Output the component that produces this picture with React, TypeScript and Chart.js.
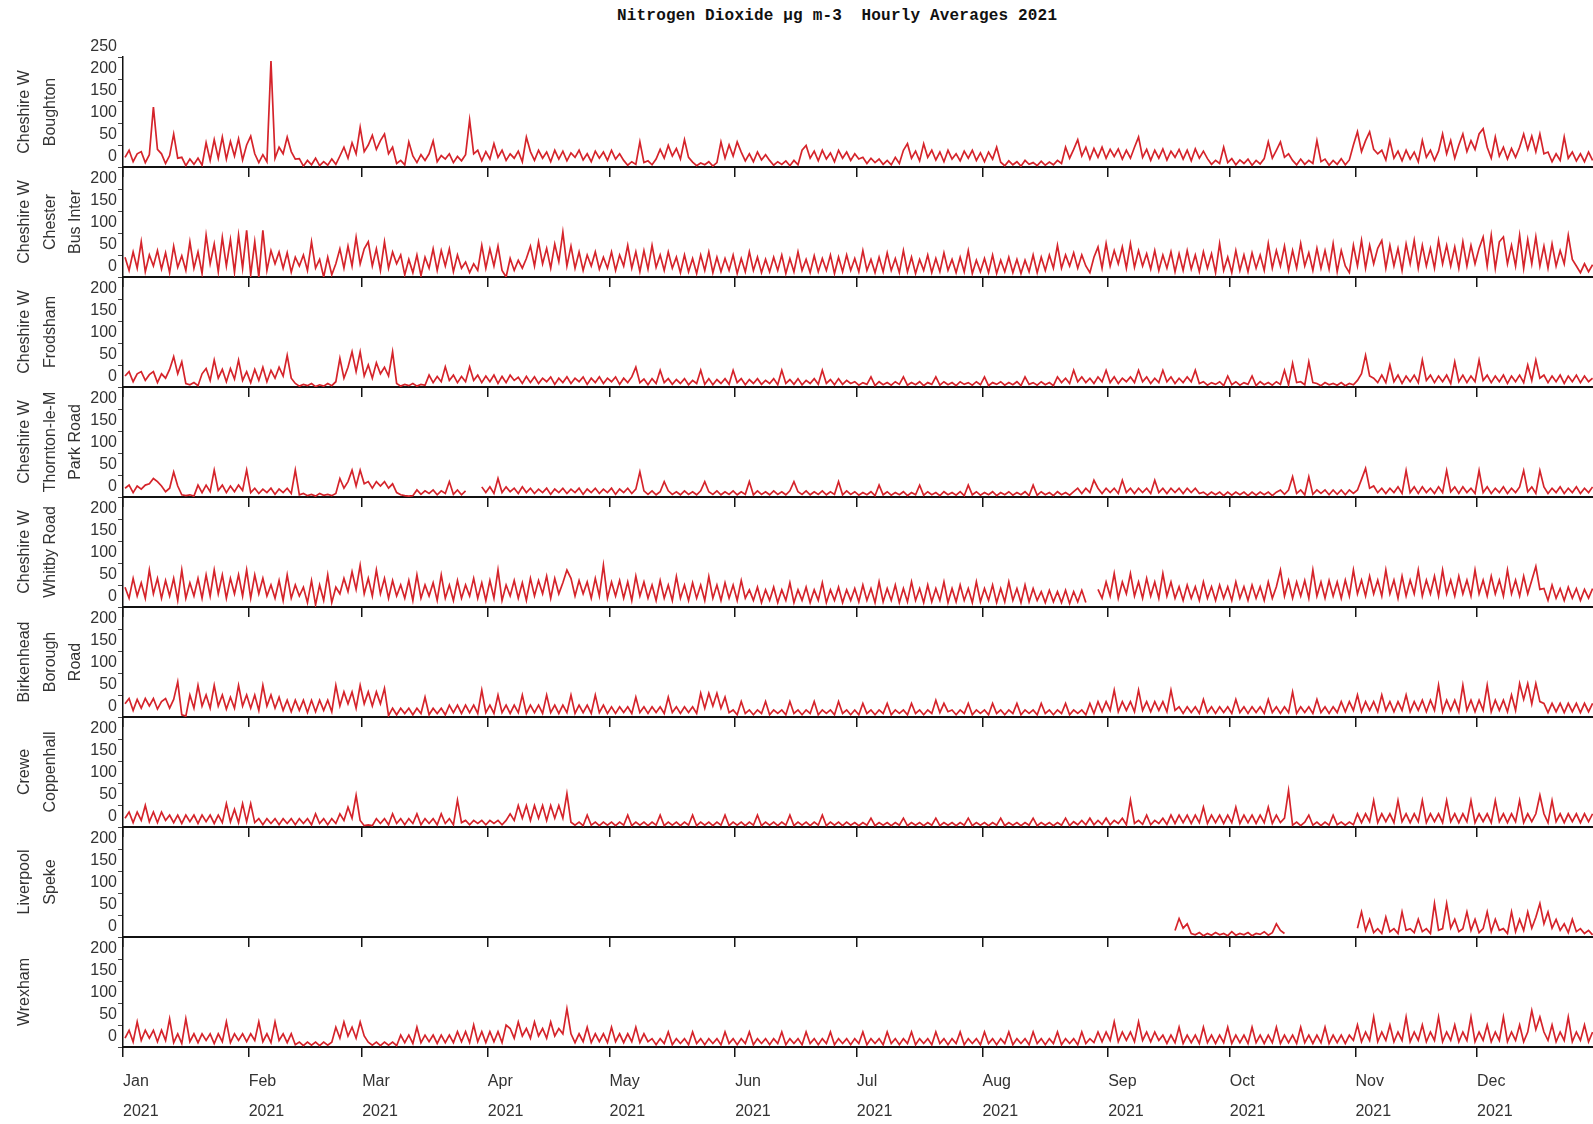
import React, { useEffect, useRef } from 'react';
import { Chart, registerables } from 'chart.js';

Chart.register(...registerables);

const TITLE = 'Nitrogen Dioxide µg m-3  Hourly Averages 2021';
const MONTHS = ['Jan', 'Feb', 'Mar', 'Apr', 'May', 'Jun', 'Jul', 'Aug', 'Sep', 'Oct', 'Nov', 'Dec'];
const MONTH_START_DAYS = [0, 31, 59, 90, 120, 151, 181, 212, 243, 273, 304, 334];
const YEAR_LABEL = '2021';
const Y_TICKS_TOP_PANEL = [0, 50, 100, 150, 200, 250];
const Y_TICKS = [0, 50, 100, 150, 200];
const Y_MAX = 250;
const X_MAX_DAY = 362.6;

// one sampled hourly value per day (day 0 = 1 Jan 2021), µg m-3
const boughton = [
  22, 38, 12, 30, 35, 10, 28, 136, 40, 30,
  8, 26, 75, 20, 22, 3, 18, 6, 20, 4,
  55, 15, 62, 20, 68, 18, 58, 25, 64, 16,
  50, 70, 30, 10, 28, 12, 241, 20, 45, 30,
  68, 35, 18, 19, 2, 15, 5, 20, 3, 12,
  4, 18, 6, 25, 45, 20, 55, 30, 90, 35,
  50, 72, 40, 60, 75, 30, 45, 8, 15, 5,
  57, 25, 10, 28, 15, 30, 59, 12, 26, 18,
  30, 10, 24, 14, 28, 107, 30, 38, 14, 35,
  18, 53, 22, 38, 15, 30, 20, 36, 12, 68,
  35, 15, 38, 20, 34, 12, 38, 18, 36, 14,
  32, 22, 38, 16, 30, 12, 36, 20, 34, 15,
  38, 18, 30, 15, 4, 12, 6, 57, 10, 14,
  5, 18, 40, 20, 49, 25, 42, 18, 62, 22,
  11, 3, 9, 5, 12, 2, 10, 57, 20, 50,
  25, 57, 34, 14, 30, 12, 34, 16, 28, 15,
  4, 12, 6, 14, 3, 15, 5, 38, 49, 20,
  36, 14, 38, 18, 32, 12, 38, 20, 34, 15,
  30, 18, 22, 8, 20, 10, 18, 6, 15, 5,
  22, 8, 38, 53, 20, 36, 14, 53, 22, 38,
  16, 34, 12, 38, 18, 30, 14, 36, 20, 38,
  15, 32, 12, 34, 18, 45, 11, 3, 14, 5,
  12, 2, 15, 6, 10, 3, 13, 4, 11, 5,
  15, 8, 45, 20, 40, 62, 25, 45, 18, 42,
  22, 45, 20, 40, 24, 41, 18, 38, 20, 45,
  68, 22, 40, 15, 38, 20, 41, 16, 36, 22,
  40, 18, 38, 14, 41, 20, 36, 19, 6, 15,
  8, 45, 10, 19, 5, 16, 8, 18, 4, 15,
  7, 19, 57, 20, 38, 57, 22, 30, 15, 5,
  18, 6, 15, 8, 60, 12, 18, 4, 15, 6,
  19, 5, 16, 50, 80, 35, 60, 80, 40, 30,
  38, 16, 60, 20, 36, 14, 38, 18, 34, 12,
  60, 22, 38, 15, 36, 75, 30, 60, 20, 50,
  75, 35, 60, 40, 75, 87, 45, 20, 68, 25,
  45, 18, 42, 22, 45, 75, 40, 70, 35, 75,
  30, 34, 12, 30, 15, 68, 20, 34, 14, 30,
  12, 34, 15,
];

const chesterBusInter = [
  45, 15, 57, 20, 80, 12, 50, 25, 60, 18,
  55, 10, 70, 22, 48, 15, 80, 20, 57, 8,
  95, 30, 75, 12, 90, 25, 85, 11, 95, 20,
  106, 5, 80, 0, 106, 15, 60, 30, 57, 20,
  55, 11, 45, 25, 50, 15, 80, 20, 40, 0,
  45, 5, 30, 64, 20, 70, 25, 90, 30, 64,
  80, 25, 64, 15, 80, 20, 57, 30, 50, 5,
  40, 10, 50, 3, 45, 20, 64, 15, 60, 25,
  64, 12, 50, 20, 34, 10, 30, 15, 72, 20,
  64, 25, 70, 15, 0, 42, 15, 38, 20, 42,
  70, 25, 80, 30, 65, 20, 75, 35, 102, 25,
  70, 20, 57, 15, 50, 25, 57, 18, 45, 20,
  57, 15, 50, 25, 72, 20, 57, 12, 60, 18,
  72, 22, 50, 15, 57, 20, 45, 10, 50, 12,
  42, 8, 50, 15, 57, 10, 45, 12, 42, 15,
  50, 8, 42, 12, 57, 15, 45, 10, 40, 12,
  45, 15, 50, 8, 42, 12, 57, 15, 40, 10,
  48, 12, 42, 15, 50, 8, 45, 12, 50, 15,
  42, 12, 60, 15, 40, 10, 45, 12, 55, 15,
  42, 10, 60, 12, 45, 8, 40, 15, 50, 10,
  42, 12, 55, 15, 40, 10, 45, 12, 60, 8,
  38, 12, 42, 10, 50, 8, 38, 12, 45, 10,
  40, 8, 38, 12, 50, 10, 45, 15, 50, 20,
  72, 20, 50, 25, 55, 20, 50, 25, 10, 45,
  68, 20, 76, 25, 60, 30, 68, 20, 76, 22,
  60, 25, 53, 18, 60, 15, 50, 20, 57, 12,
  53, 15, 60, 18, 50, 12, 57, 20, 53, 10,
  76, 15, 45, 10, 60, 15, 50, 12, 55, 20,
  50, 15, 76, 20, 60, 25, 70, 15, 60, 20,
  76, 25, 55, 15, 65, 20, 60, 18, 76, 12,
  60, 25, 10, 72, 25, 83, 20, 72, 30, 65,
  83, 20, 72, 25, 65, 15, 75, 30, 83, 20,
  72, 25, 65, 20, 83, 30, 72, 25, 68, 20,
  80, 25, 72, 30, 65, 91, 25, 95, 20, 80,
  91, 30, 72, 25, 95, 20, 85, 30, 91, 25,
  70, 20, 75, 25, 60, 30, 95, 40, 25, 10,
  30, 12, 28,
];

const frodsham = [
  25, 35, 12, 30, 35, 15, 28, 35, 10, 30,
  20, 40, 69, 30, 57, 8, 5, 10, 3, 30,
  42, 15, 61, 20, 40, 12, 42, 18, 61, 15,
  35, 10, 40, 15, 45, 12, 38, 20, 45, 25,
  72, 20, 8, 2, 6, 3, 8, 1, 5, 2,
  8, 3, 12, 65, 20, 45, 80, 35, 80, 25,
  50, 20, 55, 30, 45, 25, 80, 8, 2, 6,
  3, 8, 2, 6, 4, 27, 10, 24, 12, 46,
  15, 27, 10, 24, 12, 46, 15, 27, 10, 25,
  12, 27, 8, 24, 10, 27, 15, 22, 8, 24,
  10, 23, 8, 20, 12, 23, 6, 20, 10, 23,
  8, 20, 12, 23, 6, 20, 10, 23, 8, 20,
  12, 23, 6, 20, 10, 23, 45, 10, 18, 5,
  19, 8, 38, 10, 19, 6, 17, 8, 19, 5,
  15, 8, 38, 6, 19, 5, 17, 8, 19, 6,
  38, 10, 19, 5, 17, 8, 19, 6, 15, 8,
  19, 5, 38, 8, 17, 6, 19, 5, 15, 8,
  19, 6, 38, 8, 17, 5, 19, 6, 15, 8,
  12, 4, 10, 6, 23, 3, 12, 5, 10, 4,
  12, 6, 23, 4, 10, 5, 12, 3, 10, 6,
  23, 4, 12, 5, 10, 3, 12, 6, 10, 4,
  12, 5, 23, 3, 10, 6, 12, 4, 10, 5,
  12, 3, 23, 6, 10, 4, 12, 5, 10, 3,
  23, 10, 20, 8, 38, 12, 23, 10, 20, 8,
  23, 12, 38, 10, 23, 8, 20, 12, 23, 10,
  38, 12, 23, 8, 20, 10, 38, 12, 23, 8,
  20, 10, 23, 12, 38, 8, 12, 4, 10, 6,
  12, 3, 25, 5, 12, 4, 10, 6, 25, 3,
  12, 5, 10, 4, 12, 6, 38, 5, 54, 10,
  12, 5, 57, 10, 8, 3, 10, 5, 8, 4,
  10, 3, 8, 5, 15, 30, 72, 25, 20, 10,
  27, 10, 50, 12, 27, 8, 25, 12, 27, 10,
  61, 15, 27, 10, 25, 12, 27, 8, 57, 12,
  27, 10, 25, 12, 61, 15, 27, 10, 25, 12,
  27, 8, 25, 12, 27, 10, 50, 15, 61, 20,
  27, 10, 25, 12, 27, 8, 25, 12, 27, 10,
  25, 12, 20,
];

const thorntonParkRoad = [
  20, 27, 10, 25, 18, 27, 30, 42, 35, 25,
  12, 20, 57, 25, 5, 3, 5, 2, 27, 10,
  27, 12, 61, 15, 27, 10, 25, 12, 27, 15,
  61, 10, 20, 8, 18, 10, 20, 6, 18, 10,
  20, 8, 61, 5, 8, 3, 6, 2, 8, 4,
  6, 3, 8, 42, 20, 35, 61, 25, 61, 30,
  35, 20, 35, 25, 35, 20, 30, 10, 5, 3,
  2, 3, 16, 6, 14, 8, 16, 5, 14, 8,
  35, 6, 16, 5, 14, null, null, null, 23, 10,
  23, 8, 42, 10, 23, 12, 20, 8, 23, 10,
  20, 8, 18, 10, 20, 6, 18, 10, 20, 8,
  18, 10, 20, 6, 18, 10, 20, 8, 18, 10,
  20, 6, 18, 10, 20, 8, 18, 57, 14, 6,
  14, 5, 12, 35, 14, 6, 12, 5, 14, 6,
  12, 5, 14, 35, 12, 6, 14, 5, 12, 6,
  14, 5, 12, 6, 35, 5, 14, 6, 12, 5,
  14, 6, 12, 5, 14, 35, 12, 6, 14, 5,
  12, 6, 14, 5, 12, 6, 35, 5, 14, 6,
  12, 4, 10, 5, 12, 3, 27, 5, 12, 4,
  10, 5, 12, 3, 10, 5, 27, 4, 12, 5,
  10, 3, 12, 5, 10, 4, 12, 3, 27, 5,
  12, 4, 10, 5, 12, 3, 10, 5, 12, 4,
  10, 5, 12, 3, 27, 4, 12, 5, 10, 3,
  12, 5, 10, 4, 12, 20, 8, 20, 10, 38,
  20, 8, 20, 10, 20, 8, 38, 10, 20, 8,
  20, 10, 20, 8, 38, 10, 20, 8, 20, 10,
  20, 8, 20, 10, 20, 8, 11, 4, 11, 5,
  11, 3, 11, 4, 11, 5, 11, 3, 11, 4,
  11, 5, 11, 3, 11, 16, 6, 16, 46, 8,
  16, 5, 46, 6, 16, 8, 16, 5, 16, 6,
  16, 5, 16, 8, 16, 40, 65, 20, 25, 10,
  20, 8, 20, 10, 23, 8, 60, 10, 23, 8,
  23, 10, 20, 8, 23, 10, 60, 12, 23, 8,
  23, 10, 20, 8, 60, 10, 23, 8, 20, 10,
  23, 8, 20, 10, 23, 60, 12, 23, 8, 60,
  23, 8, 20, 10, 23, 8, 20, 10, 23, 8,
  20, 10, 23,
];

const whitbyRoad = [
  45, 20, 65, 25, 55, 20, 84, 30, 65, 20,
  60, 25, 65, 15, 84, 20, 55, 25, 65, 20,
  73, 25, 84, 30, 73, 20, 65, 30, 73, 25,
  84, 20, 73, 30, 65, 25, 50, 20, 60, 15,
  73, 20, 50, 25, 45, 10, 60, 5, 50, 15,
  73, 10, 45, 30, 65, 35, 80, 40, 95, 30,
  65, 25, 84, 30, 65, 20, 60, 25, 50, 20,
  60, 15, 73, 20, 50, 25, 55, 15, 73, 20,
  50, 15, 60, 20, 50, 25, 65, 20, 55, 15,
  60, 20, 84, 15, 50, 25, 60, 20, 55, 15,
  65, 25, 60, 30, 70, 20, 65, 30, 55, 84,
  65, 25, 60, 30, 57, 20, 65, 25, 95, 20,
  57, 25, 60, 20, 57, 15, 70, 25, 57, 20,
  50, 15, 60, 20, 50, 15, 69, 20, 50, 15,
  55, 20, 50, 15, 69, 20, 50, 15, 55, 20,
  50, 15, 60, 20, 39, 15, 45, 10, 39, 15,
  45, 10, 39, 15, 55, 10, 39, 15, 45, 10,
  39, 15, 55, 10, 39, 15, 45, 10, 39, 15,
  42, 12, 50, 15, 42, 10, 57, 12, 42, 15,
  50, 10, 42, 12, 57, 15, 42, 10, 50, 12,
  42, 15, 57, 10, 42, 12, 50, 15, 42, 10,
  57, 12, 42, 15, 50, 10, 42, 12, 57, 15,
  42, 10, 50, 12, 42, 15, 35, 10, 38, 12,
  35, 10, 38, 8, 35, 12, 38, 10, null, null,
  40, 20, 57, 25, 76, 20, 57, 30, 76, 25,
  57, 20, 65, 25, 57, 20, 76, 25, 57, 20,
  46, 15, 50, 20, 46, 15, 57, 20, 46, 15,
  50, 20, 46, 15, 57, 20, 46, 15, 50, 20,
  46, 15, 57, 20, 46, 84, 25, 60, 20, 57,
  25, 60, 20, 84, 25, 57, 20, 60, 25, 57,
  20, 61, 25, 84, 30, 61, 25, 70, 30, 61,
  25, 84, 30, 61, 20, 70, 25, 61, 30, 84,
  25, 61, 30, 70, 25, 84, 30, 61, 25, 70,
  30, 61, 25, 84, 30, 61, 25, 70, 30, 61,
  25, 84, 30, 61, 25, 70, 30, 61, 92, 40,
  42, 15, 50, 20, 42, 15, 45, 20, 42, 15,
  40, 20, 42,
];

const birkenheadBoroughRoad = [
  30, 42, 15, 40, 20, 42, 25, 42, 18, 35,
  42, 20, 40, 80, 5, 2, 50, 20, 72, 25,
  50, 20, 72, 25, 50, 18, 45, 20, 72, 25,
  50, 20, 50, 15, 72, 25, 50, 20, 45, 15,
  38, 12, 38, 15, 38, 10, 38, 12, 38, 15,
  38, 12, 72, 25, 57, 30, 57, 20, 72, 30,
  57, 25, 57, 30, 65, 3, 20, 5, 20, 8,
  20, 5, 20, 8, 45, 5, 20, 8, 20, 5,
  27, 10, 27, 8, 27, 10, 27, 8, 61, 10,
  27, 8, 50, 10, 27, 8, 27, 10, 50, 8,
  27, 10, 27, 8, 50, 10, 27, 8, 27, 10,
  50, 8, 27, 10, 27, 8, 50, 10, 27, 8,
  23, 8, 23, 10, 23, 8, 45, 10, 23, 8,
  23, 10, 23, 8, 45, 10, 23, 8, 23, 10,
  23, 8, 54, 20, 54, 25, 54, 20, 45, 10,
  16, 5, 35, 8, 16, 5, 16, 8, 35, 5,
  16, 8, 16, 5, 35, 8, 16, 5, 16, 8,
  35, 5, 16, 8, 16, 5, 35, 8, 16, 5,
  16, 5, 31, 8, 16, 5, 16, 8, 31, 5,
  16, 8, 16, 5, 31, 8, 16, 5, 16, 8,
  38, 10, 31, 12, 16, 5, 16, 8, 31, 5,
  16, 8, 16, 5, 31, 8, 16, 5, 16, 8,
  31, 5, 16, 8, 16, 5, 31, 8, 16, 5,
  16, 8, 31, 5, 16, 8, 16, 5, 31, 8,
  35, 12, 35, 15, 61, 12, 35, 15, 35, 12,
  61, 15, 35, 12, 35, 15, 35, 12, 61, 15,
  23, 8, 23, 10, 23, 8, 40, 10, 23, 8,
  23, 10, 23, 8, 40, 10, 23, 8, 23, 10,
  23, 8, 40, 10, 23, 8, 23, 10, 57, 8,
  23, 10, 23, 8, 40, 10, 23, 8, 23, 10,
  35, 12, 35, 15, 50, 12, 35, 15, 35, 12,
  50, 15, 35, 12, 35, 15, 50, 12, 35, 15,
  38, 12, 38, 15, 72, 12, 38, 15, 38, 12,
  72, 15, 38, 12, 38, 15, 72, 12, 38, 15,
  38, 12, 50, 15, 76, 40, 76, 30, 76, 35,
  31, 10, 31, 12, 31, 10, 31, 12, 31, 10,
  31, 12, 31,
];

const creweCoppenhall = [
  20, 34, 10, 34, 15, 49, 12, 34, 10, 34,
  15, 27, 10, 27, 8, 27, 12, 27, 8, 27,
  12, 27, 8, 27, 10, 53, 12, 40, 10, 53,
  12, 53, 10, 19, 5, 19, 8, 19, 5, 19,
  8, 19, 5, 19, 8, 19, 5, 30, 8, 19,
  5, 19, 8, 30, 15, 45, 20, 72, 15, 3,
  5, 3, 19, 8, 19, 5, 30, 8, 19, 5,
  19, 8, 30, 5, 19, 8, 19, 5, 30, 8,
  19, 5, 61, 10, 15, 5, 15, 8, 15, 5,
  15, 8, 15, 5, 15, 30, 15, 49, 20, 49,
  15, 49, 20, 49, 15, 49, 20, 49, 20, 76,
  11, 4, 11, 3, 27, 4, 11, 3, 11, 4,
  11, 3, 11, 4, 27, 3, 11, 4, 11, 3,
  11, 4, 27, 3, 11, 4, 11, 3, 11, 4,
  27, 3, 11, 4, 11, 3, 11, 4, 27, 3,
  11, 4, 11, 3, 11, 4, 27, 3, 11, 4,
  11, 3, 11, 4, 27, 3, 11, 4, 11, 3,
  11, 4, 27, 3, 11, 4, 11, 3, 11, 4,
  10, 3, 10, 4, 20, 3, 10, 4, 10, 3,
  10, 4, 20, 3, 10, 4, 10, 3, 10, 4,
  20, 3, 10, 4, 10, 3, 10, 4, 20, 3,
  10, 4, 10, 3, 10, 4, 20, 3, 10, 4,
  10, 3, 10, 4, 20, 3, 10, 4, 10, 3,
  10, 4, 20, 3, 12, 5, 15, 5, 20, 5,
  15, 6, 20, 5, 15, 8, 20, 5, 61, 8,
  15, 6, 27, 5, 15, 8, 20, 6, 27, 8,
  27, 10, 27, 8, 27, 10, 45, 8, 27, 10,
  27, 8, 27, 10, 45, 8, 27, 10, 27, 8,
  27, 10, 45, 8, 27, 10, 20, 83, 4, 11,
  3, 11, 27, 4, 11, 3, 11, 4, 27, 5,
  11, 4, 11, 5, 30, 10, 30, 12, 60, 10,
  30, 12, 30, 10, 60, 12, 30, 10, 30, 12,
  60, 10, 30, 12, 30, 10, 60, 12, 30, 10,
  30, 12, 60, 10, 30, 12, 30, 10, 60, 12,
  30, 10, 30, 12, 60, 10, 30, 12, 30, 72,
  30, 10, 60, 12, 30, 10, 30, 12, 30, 10,
  30, 12, 30,
];

// Liverpool Speke only reported two stretches of the year
const LIVERPOOL_SEP_START_DAY = 259;
const liverpoolSpekeSep = [
  15, 42, 20, 30, 8, 5, 10, 3, 8, 4,
  10, 5, 8, 3, 12, 4, 8, 5, 10, 3,
  8, 6, 12, 4, 10, 30, 15, 8,
];
const LIVERPOOL_NOV_START_DAY = 304;
const liverpoolSpekeNov = [
  20, 57, 15, 40, 10, 19, 8, 45, 12, 19,
  8, 57, 15, 19, 10, 40, 12, 19, 8, 76,
  15, 19, 76, 20, 40, 12, 19, 57, 15, 40,
  10, 19, 57, 12, 40, 15, 19, 8, 57, 12,
  40, 15, 57, 20, 45, 76, 30, 57, 20, 40,
  15, 30, 10, 40, 12, 19, 8, 15, 5,
];

const wrexham = [
  20, 38, 12, 57, 15, 38, 20, 38, 12, 38,
  15, 64, 10, 30, 8, 64, 12, 30, 10, 30,
  15, 30, 8, 30, 12, 57, 10, 30, 15, 30,
  12, 30, 15, 57, 12, 30, 10, 57, 15, 30,
  10, 30, 5, 11, 3, 11, 4, 11, 3, 11,
  4, 11, 45, 20, 57, 25, 45, 20, 57, 25,
  11, 4, 11, 3, 11, 4, 11, 3, 27, 10,
  27, 8, 45, 10, 27, 12, 27, 8, 27, 10,
  27, 10, 35, 12, 35, 10, 50, 12, 35, 10,
  35, 12, 35, 10, 50, 42, 20, 57, 25, 42,
  20, 57, 25, 42, 20, 57, 25, 42, 30, 87,
  30, 10, 30, 12, 45, 10, 30, 12, 30, 10,
  45, 12, 30, 10, 30, 12, 45, 10, 30, 12,
  19, 5, 19, 8, 34, 5, 19, 8, 19, 5,
  34, 8, 19, 5, 19, 8, 19, 5, 34, 8,
  19, 5, 19, 8, 34, 5, 19, 8, 19, 5,
  19, 8, 34, 5, 19, 8, 19, 5, 34, 8,
  19, 5, 19, 8, 34, 5, 19, 8, 19, 5,
  19, 8, 34, 5, 19, 8, 19, 5, 34, 8,
  19, 5, 19, 8, 34, 5, 19, 8, 19, 5,
  34, 8, 19, 5, 19, 8, 34, 5, 19, 8,
  19, 5, 34, 8, 19, 5, 19, 8, 34, 5,
  19, 8, 19, 5, 34, 8, 19, 5, 19, 8,
  34, 5, 19, 8, 19, 5, 34, 8, 19, 10,
  34, 12, 34, 15, 57, 12, 34, 15, 34, 12,
  57, 15, 34, 12, 34, 15, 27, 8, 27, 10,
  45, 8, 27, 10, 27, 8, 45, 10, 27, 8,
  27, 10, 45, 8, 27, 10, 27, 8, 45, 10,
  27, 8, 27, 10, 45, 8, 27, 10, 27, 8,
  45, 10, 27, 8, 27, 10, 45, 8, 27, 10,
  27, 8, 27, 15, 50, 12, 34, 15, 68, 12,
  34, 15, 50, 12, 34, 15, 68, 12, 34, 15,
  50, 12, 34, 15, 68, 12, 34, 15, 50, 12,
  34, 15, 68, 12, 34, 15, 50, 12, 34, 15,
  68, 12, 34, 15, 50, 12, 34, 83, 40, 68,
  34, 15, 50, 12, 34, 15, 68, 12, 34, 15,
  50, 12, 34,
];

const DAYS_SHOWN = boughton.length;
const liverpoolSpeke: (number | null)[] = [];
for (let d = 0; d < DAYS_SHOWN; d++) {
  const a = d - LIVERPOOL_SEP_START_DAY;
  const b = d - LIVERPOOL_NOV_START_DAY;
  if (a >= 0 && a < liverpoolSpekeSep.length) liverpoolSpeke.push(liverpoolSpekeSep[a]);
  else if (b >= 0 && b < liverpoolSpekeNov.length) liverpoolSpeke.push(liverpoolSpekeNov[b]);
  else liverpoolSpeke.push(null);
}

const STATION_LABELS: string[][] = [
  ['Cheshire W', 'Boughton'],
  ['Cheshire W', 'Chester', 'Bus Inter'],
  ['Cheshire W', 'Frodsham'],
  ['Cheshire W', 'Thornton-le-M', 'Park Road'],
  ['Cheshire W', 'Whitby Road'],
  ['Birkenhead', 'Borough', 'Road'],
  ['Crewe', 'Coppenhall'],
  ['Liverpool', 'Speke'],
  ['Wrexham'],
];
const STATION_VALUES: (number | null)[][] = [
  boughton,
  chesterBusInter,
  frodsham,
  thorntonParkRoad,
  whitbyRoad,
  birkenheadBoroughRoad,
  creweCoppenhall,
  liverpoolSpeke,
  wrexham,
];

const FONT = "'Liberation Sans', Arial, Helvetica, sans-serif";
const LINE_COLOR = '#d5242b';
const TEXT_COLOR = '#333333';

const PAGE_W = 1593;
const PAGE_H = 1124;
const FIRST_PLOT_TOP = 57;
const PLOT_H = 110;
const AXIS_W = 123;

function Panel({ index }: { index: number }) {
  const ref = useRef<HTMLCanvasElement | null>(null);
  const isFirst = index === 0;
  const isLast = index === STATION_VALUES.length - 1;
  const padTop = isFirst ? FIRST_PLOT_TOP : 14;
  const xAxisH = isLast ? 76 : 12;
  const plotTop = FIRST_PLOT_TOP + PLOT_H * index;
  const canvasH = padTop + PLOT_H + xAxisH;

  useEffect(() => {
    if (!ref.current) return;
    const values = STATION_VALUES[index];
    const chart = new Chart(ref.current, {
      type: 'line',
      data: {
        datasets: [
          {
            data: values.map((v, i) => ({ x: i + 0.5, y: v })) as any,
            borderColor: LINE_COLOR,
            borderWidth: 1.7,
            borderJoinStyle: 'miter',
            pointRadius: 0,
            tension: 0,
            spanGaps: false,
            fill: false,
          },
        ],
      },
      options: {
        animation: false,
        responsive: false,
        maintainAspectRatio: false,
        events: [],
        layout: { padding: { top: padTop, left: 0, right: 0, bottom: 0 } },
        plugins: {
          legend: { display: false },
          tooltip: { enabled: false },
          title: { display: false },
        },
        scales: {
          x: {
            type: 'linear',
            min: 0,
            max: X_MAX_DAY,
            afterBuildTicks: (s: any) => {
              s.ticks = MONTH_START_DAYS.map((v) => ({ value: v }));
            },
            afterFit: (s: any) => {
              s.height = xAxisH;
            },
            grid: {
              display: true,
              drawOnChartArea: false,
              drawTicks: true,
              tickLength: 10,
              color: '#151515',
              lineWidth: 1.5,
            },
            border: { display: true, color: '#111111', width: 2 },
            ticks: {
              display: isLast,
              autoSkip: false,
              maxRotation: 0,
              minRotation: 0,
              align: 'start',
              padding: 10,
              color: TEXT_COLOR,
              font: { family: FONT, size: 16, lineHeight: '30px' },
              callback: (_v: any, i: number) => [MONTHS[i], YEAR_LABEL],
            },
          },
          y: {
            type: 'linear',
            min: 0,
            max: Y_MAX,
            afterBuildTicks: (s: any) => {
              s.ticks = (isFirst ? Y_TICKS_TOP_PANEL : Y_TICKS).map((v) => ({ value: v }));
            },
            afterFit: (s: any) => {
              s.width = AXIS_W;
            },
            grid: {
              display: true,
              drawOnChartArea: false,
              drawTicks: true,
              tickLength: 5,
              color: '#444444',
              lineWidth: 1,
            },
            border: { display: true, color: '#111111', width: 1.5 },
            ticks: {
              autoSkip: false,
              padding: 1,
              labelOffset: -10,
              color: TEXT_COLOR,
              font: { family: FONT, size: 16 },
            },
            title: {
              display: true,
              text: STATION_LABELS[index],
              color: TEXT_COLOR,
              font: { family: FONT, size: 16, lineHeight: '25.5px' },
              padding: { top: 12, bottom: 0 },
            },
          },
        },
      } as any,
    });
    return () => chart.destroy();
  }, [index]);

  return (
    <canvas
      ref={ref}
      width={PAGE_W}
      height={canvasH}
      style={{
        position: 'absolute',
        left: 0,
        top: plotTop - padTop,
        width: PAGE_W,
        height: canvasH,
        display: 'block',
      }}
    />
  );
}

export default function App() {
  return (
    <div
      style={{
        position: 'absolute',
        left: 0,
        top: 0,
        width: PAGE_W,
        height: PAGE_H,
        background: '#ffffff',
        overflow: 'hidden',
      }}
    >
      <div
        style={{
          position: 'absolute',
          left: 617,
          top: 6,
          height: 20,
          lineHeight: '20px',
          fontFamily: "'Liberation Mono', 'DejaVu Sans Mono', monospace",
          fontWeight: 'bold',
          fontSize: 16,
          letterSpacing: '0.18px',
          whiteSpace: 'pre',
          color: '#111111',
        }}
      >
        {TITLE}
      </div>
      {STATION_VALUES.map((_, i) => (
        <Panel key={i} index={i} />
      ))}
    </div>
  );
}
